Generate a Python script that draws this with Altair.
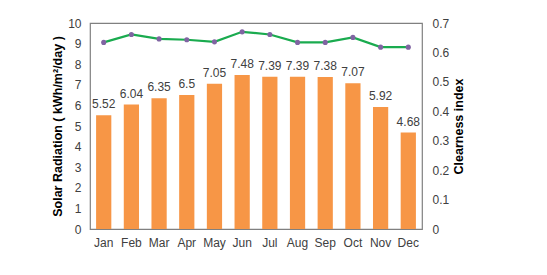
import altair as alt
import pandas as pd

months = ["Jan", "Feb", "Mar", "Apr", "May", "Jun", "Jul", "Aug", "Sep", "Oct", "Nov", "Dec"]
radiation = [5.52, 6.04, 6.35, 6.5, 7.05, 7.48, 7.39, 7.39, 7.38, 7.07, 5.92, 4.68]
clearness = [0.634, 0.661, 0.646, 0.643, 0.636, 0.670, 0.661, 0.634, 0.634, 0.651, 0.618, 0.618]
left_ticks = list(range(0, 11))
right_ticks = [0, 0.1, 0.2, 0.3, 0.4, 0.5, 0.6, 0.7]

df = pd.DataFrame({"month": months, "rad": radiation, "ci": clearness,
                   "label": [("%g" % v) for v in radiation]})

FONT = "Liberation Sans"
x = alt.X("month:N", sort=months, title=None,
          scale=alt.Scale(paddingInner=0.45, paddingOuter=0.22),
          axis=alt.Axis(labelAngle=0, ticks=False, domain=False, labelPadding=8,
                        labelFontSize=12, labelColor="#404040", labelFont=FONT))

left_axis = alt.Axis(values=left_ticks, tickCount=11, grid=False, ticks=False, domain=False,
                     labelOverlap=False,
                     labelFontSize=12, labelColor="#404040", labelFont=FONT, labelPadding=9,
                     titleFont=FONT, titleFontSize=12.5, titleFontWeight="bold",
                     titleColor="#000000", titlePadding=3)
right_axis = alt.Axis(orient="right", values=right_ticks, tickCount=8,
                      format="g", grid=False, ticks=False, domain=False,
                      labelOverlap=False,
                      labelFontSize=12, labelColor="#404040", labelFont=FONT, labelPadding=10,
                      titleFont=FONT, titleFontSize=12.5, titleFontWeight="bold",
                      titleColor="#000000", titlePadding=17, titleAngle=270)

ly = alt.Y("rad:Q", scale=alt.Scale(domain=[0, 10]),
           title="Solar Radiation ( kWh/m²/day )", axis=left_axis)
ry = alt.Y("ci:Q", scale=alt.Scale(domain=[0, 0.7]), title="Clearness index", axis=right_axis)

bars = alt.Chart(df).mark_bar(color="#F79646").encode(x=x, y=ly)

texts = alt.Chart(df).mark_text(baseline="bottom", dy=-4, fontSize=12, font=FONT,
                                color="#404040").encode(x=x, y=ly, text="label:N")

left = alt.layer(bars, texts)

line = alt.Chart(df).mark_line(color="#1AAB4F", strokeWidth=2.2).encode(x=x, y=ry)

pts = alt.Chart(df).mark_point(filled=True, color="#8064A2", size=26, opacity=1).encode(
    x=x, y=ry)

right = alt.layer(line, pts)

chart = alt.layer(left, right).resolve_scale(y="independent").properties(
    width=332, height=206,
    autosize=alt.AutoSizeParams(type="none"),
    padding={"left": 82, "top": 15, "right": 110, "bottom": 40},
).configure_view(stroke="#808080", strokeWidth=1.2)

chart.save("out.html", embed_options={"renderer": "svg", "actions": False})
